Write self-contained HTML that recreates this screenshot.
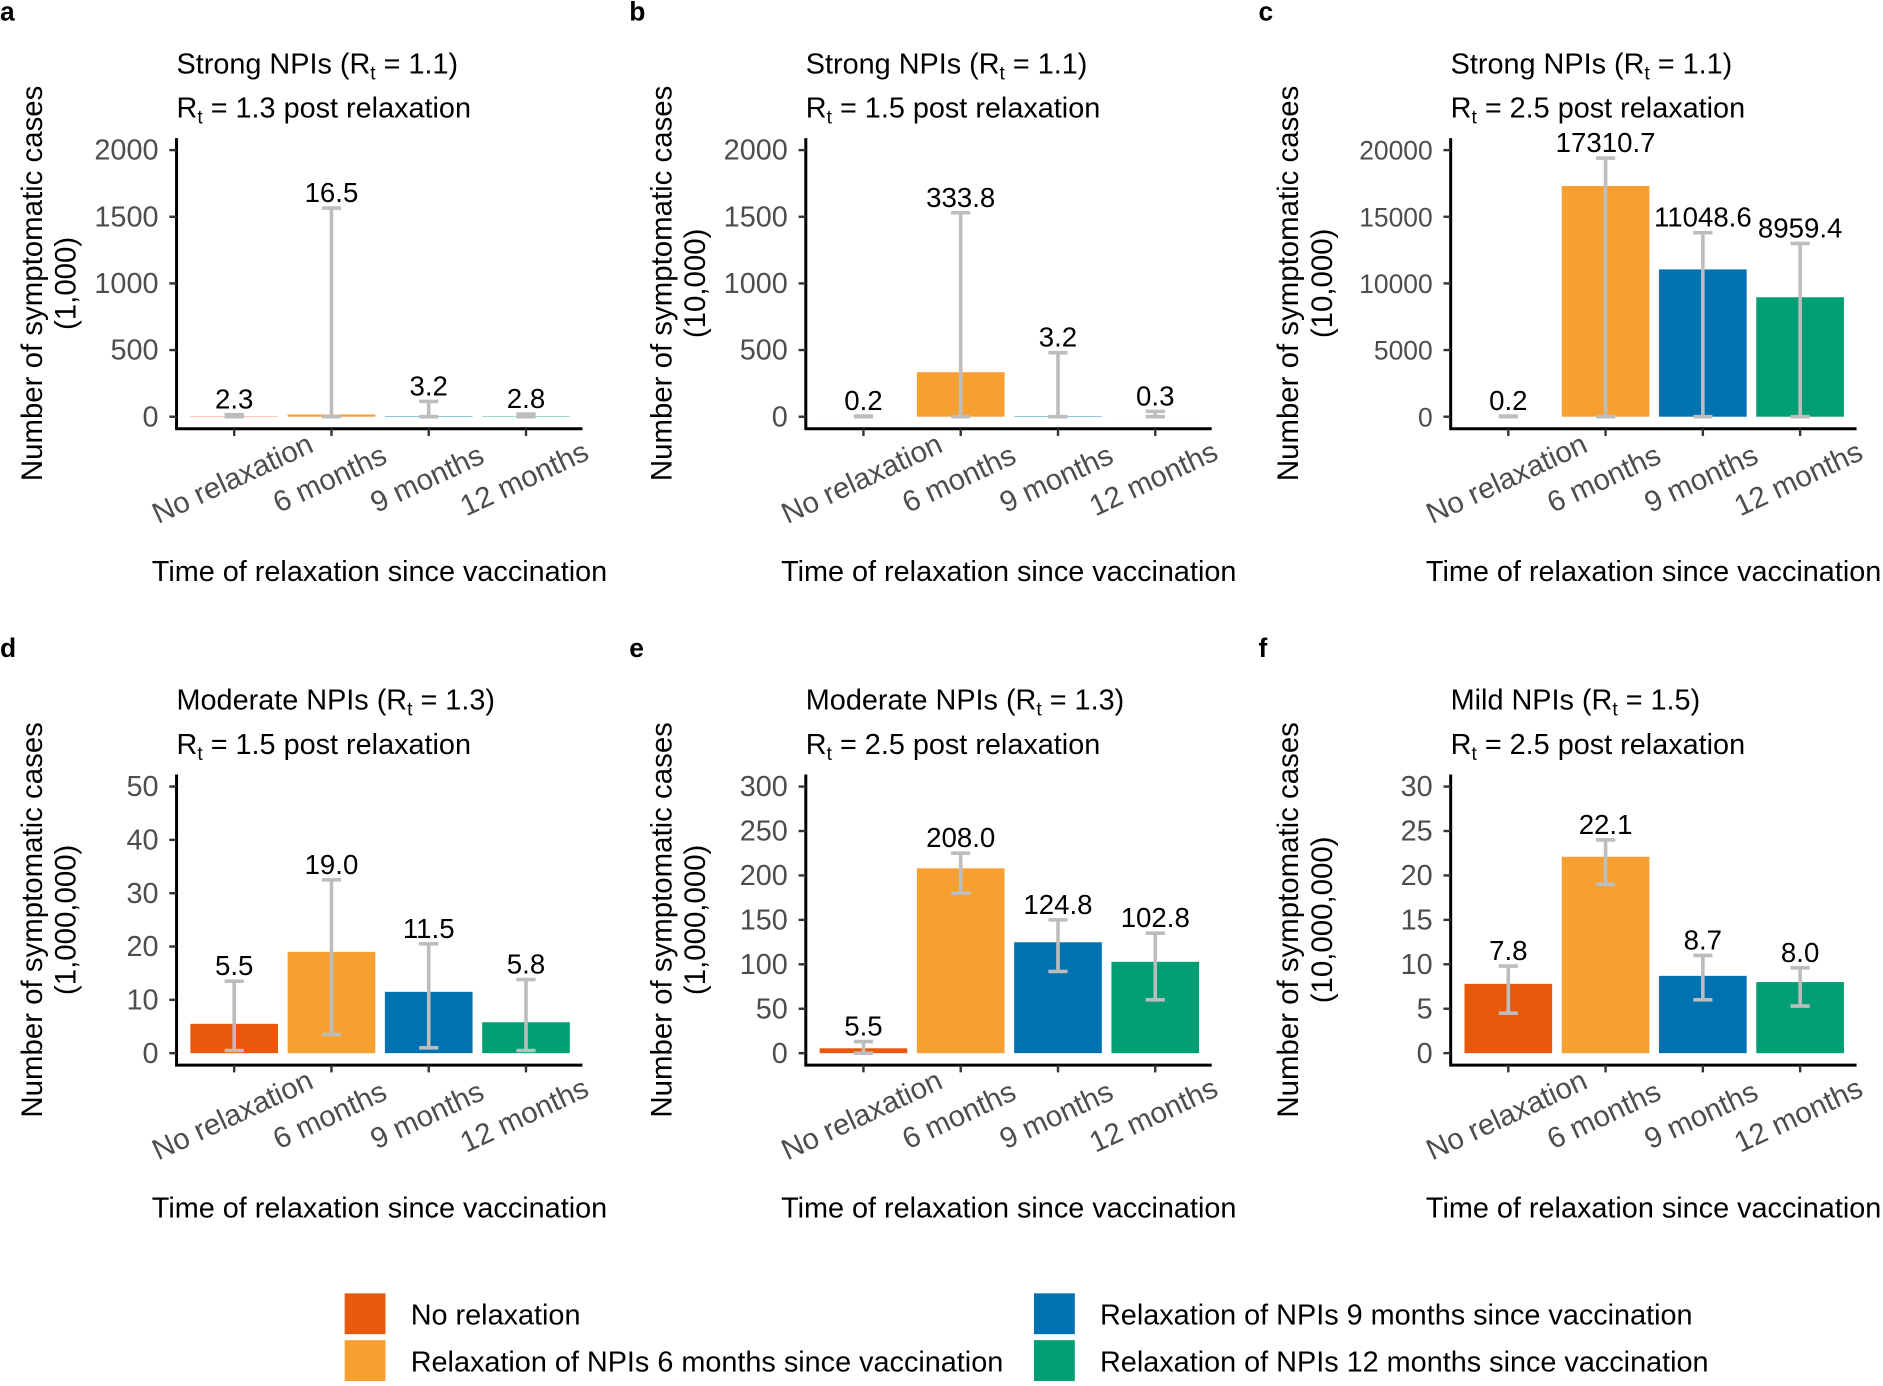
<!DOCTYPE html>
<html><head><meta charset="utf-8"><style>
html,body{margin:0;padding:0;background:#fff;}
svg text{font-family:"Liberation Sans",Arial,sans-serif;}
</style></head><body>
<svg id="s" width="1883" height="1381" viewBox="0 0 1568 1150" xmlns="http://www.w3.org/2000/svg"></svg>
<script>
const C=['#E8590C','#F5A030','#0072B2','#009E73'];
const cats=['No relaxation','6 months','9 months','12 months'];
const P=[
 {L:'a',ox:0,oy:0,lx:35,tf:24,t1:'Strong NPIs (R',t1v:' = 1.1)',t2v:' = 1.3 post relaxation',unit:'(1,000)',max:2000,step:500,
  d:[[2.3,0,15],[16.5,0,1565],[3.2,0,115],[2.8,0,20]]},
 {L:'b',ox:524,oy:0,lx:559,tf:24,t1:'Strong NPIs (R',t1v:' = 1.1)',t2v:' = 1.5 post relaxation',unit:'(10,000)',max:2000,step:500,
  d:[[0.2,0,5],[333.8,0,1530],[3.2,0,480],[0.3,0,40]]},
 {L:'c',ox:1061,oy:0,lx:1081,tf:22,t1:'Strong NPIs (R',t1v:' = 1.1)',t2v:' = 2.5 post relaxation',unit:'(10,000)',max:20000,step:5000,
  d:[[0.2,0,50],[17310.7,0,19400],[11048.6,0,13800],[8959.4,0,13000]]},
 {L:'d',ox:0,oy:530,lx:35,tf:24,t1:'Moderate NPIs (R',t1v:' = 1.3)',t2v:' = 1.5 post relaxation',unit:'(1,000,000)',max:50,step:10,
  d:[[5.5,0.5,13.5],[19.0,3.5,32.5],[11.5,1,20.5],[5.8,0.5,13.8]]},
 {L:'e',ox:524,oy:530,lx:559,tf:24,t1:'Moderate NPIs (R',t1v:' = 1.3)',t2v:' = 2.5 post relaxation',unit:'(1,000,000)',max:300,step:50,
  d:[[5.5,0,13],[208.0,180,225],[124.8,92,150],[102.8,60,135]]},
 {L:'f',ox:1061,oy:530,lx:1081,tf:24,t1:'Mild NPIs (R',t1v:' = 1.5)',t2v:' = 2.5 post relaxation',unit:'(10,000,000)',max:30,step:5,
  d:[[7.8,4.5,9.8],[22.1,19,24],[8.7,6,11],[8.0,5.3,9.6]]}
];
let h='';
const T=(x,y,s,o)=>`<text x="${x}" y="${y}" ${o||''}>${s}</text>`;
for(const p of P){
 const ox=p.ox,oy=p.oy, x0=147+ox, y0=347+oy, ytop=125+oy, k=(y0-ytop)/p.max;
 const letterX={0:0,524:524,1061:1048}[ox];
 h+=T(letterX,oy+17,p.L,'font-size="22" font-weight="bold"');
 h+=`<text x="${x0}" y="${oy+61}" font-size="24">${p.t1}<tspan font-size="16" dy="5">t</tspan><tspan dy="-5">${p.t1v}</tspan></text>`;
 h+=`<text x="${x0}" y="${oy+98}" font-size="24">R<tspan font-size="16" dy="5">t</tspan><tspan dy="-5">${p.t2v}</tspan></text>`;
 h+=`<text transform="translate(${p.lx},${236+oy}) rotate(-90)" text-anchor="middle" font-size="24.5">Number of symptomatic cases</text>`;
 h+=`<text transform="translate(${p.lx+28},${236+oy}) rotate(-90)" text-anchor="middle" font-size="24.5">${p.unit}</text>`;
 p.d.forEach((d,i)=>{
  const cx=x0+48+i*81, bw=73;
  const top=y0-d[0]*k;
  h+=`<rect x="${cx-bw/2}" y="${top}" width="${bw}" height="${y0-top}" fill="${C[i]}"/>`;
 });
 p.d.forEach((d,i)=>{
  const cx=x0+48+i*81;
  const a=y0-d[1]*k,b=y0-d[2]*k;
  h+=`<g stroke="#bdbdbd" stroke-width="3"><line x1="${cx}" x2="${cx}" y1="${a}" y2="${b}"/><line x1="${cx-8}" x2="${cx+8}" y1="${a}" y2="${a}"/><line x1="${cx-8}" x2="${cx+8}" y1="${b}" y2="${b}"/></g>`;
  h+=T(cx,b-5,d[0].toFixed(1),'font-size="23" text-anchor="middle"');
 });
 h+=`<g stroke="#000" stroke-width="2.5"><line x1="${x0}" y1="${115+oy}" x2="${x0}" y2="${358+oy}"/><line x1="${x0-1}" y1="${357+oy}" x2="${485+ox}" y2="${357+oy}"/></g>`;
 for(let v=0;v<=p.max;v+=p.step){
  const y=y0-v*k;
  h+=`<line x1="${x0-6}" x2="${x0}" y1="${y}" y2="${y}" stroke="#333" stroke-width="2"/>`;
  h+=T(x0-15,y+8,v,`font-size="${p.tf}" fill="#4d4d4d" text-anchor="end"`);
 }
 for(let i=0;i<4;i++){
  const cx=x0+48+i*81;
  h+=`<line x1="${cx}" x2="${cx}" y1="${357+oy}" y2="${363+oy}" stroke="#333" stroke-width="2"/>`;
  h+=`<text transform="translate(${cx+2},${406+oy}) rotate(-25)" text-anchor="middle" font-size="24.5" fill="#4d4d4d">${cats[i]}</text>`;
 }
 h+=T(316+ox,484+oy,'Time of relaxation since vaccination','font-size="24" text-anchor="middle"');
}
const lg=[[287,1077,0,'No relaxation'],[287,1116,1,'Relaxation of NPIs 6 months since vaccination'],[861,1077,2,'Relaxation of NPIs 9 months since vaccination'],[861,1116,3,'Relaxation of NPIs 12 months since vaccination']];
for(const l of lg){
 h+=`<rect x="${l[0]}" y="${l[1]}" width="34" height="34" fill="${C[l[2]]}"/>`;
 h+=T(l[0]+55,l[1]+26,l[3],'font-size="24"');
}
document.getElementById('s').innerHTML=h;
</script>
</body></html>
